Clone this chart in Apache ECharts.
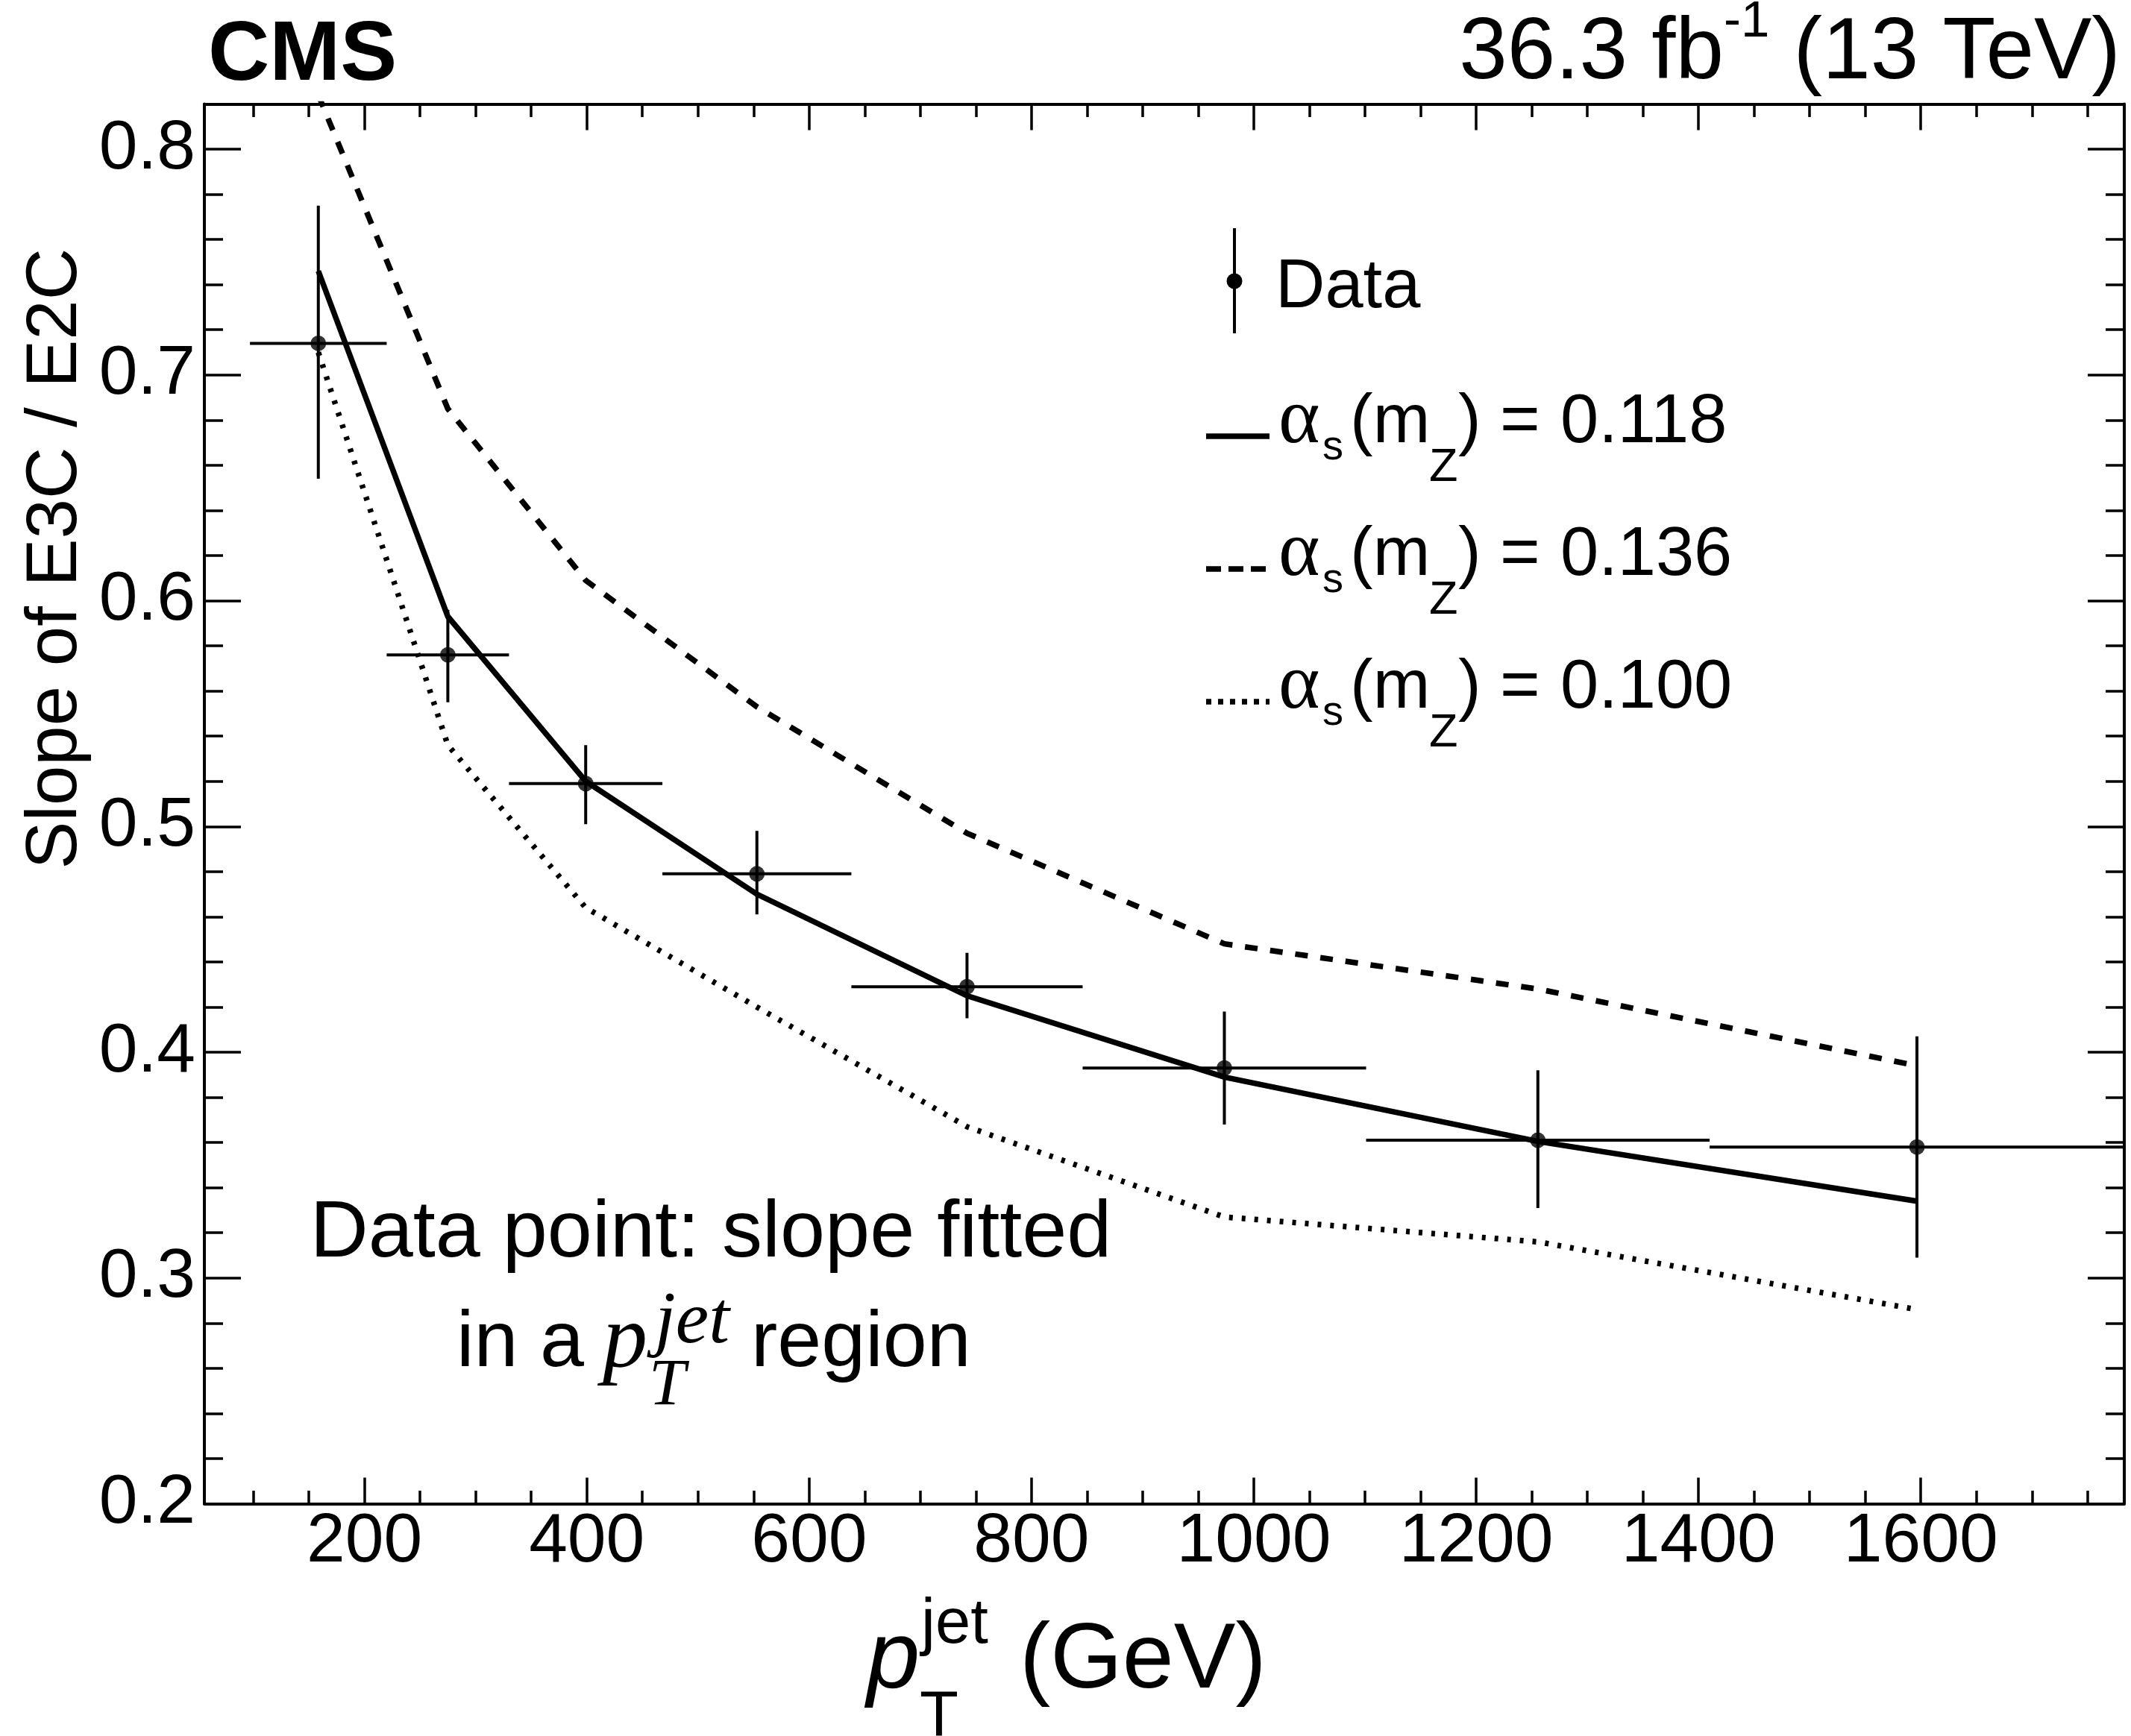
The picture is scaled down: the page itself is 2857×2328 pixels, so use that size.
<!DOCTYPE html>
<html>
<head>
<meta charset="utf-8">
<title>Slope of E3C / E2C vs pT jet</title>
<script src="https://cdn.jsdelivr.net/npm/echarts@6/dist/echarts.min.js"></script>
<style>
  html, body { margin: 0; padding: 0; background: #fff; }
  #chart { width: 2857px; height: 2328px; }
</style>
</head>
<body>
<div id="chart"></div>
<script>
// bins in pT (GeV) and the fitted slopes
const binLow = [97, 220, 330, 468, 638, 846, 1101, 1410];
const binHigh = [220, 330, 468, 638, 846, 1101, 1410, 1783];
const ptCenter = [158.5, 275, 399, 553, 742, 973.5, 1255.5, 1596.5];
const dataSlope = [0.714, 0.576, 0.519, 0.479, 0.429, 0.393, 0.361, 0.358];
const errLow = [0.654, 0.555, 0.501, 0.461, 0.415, 0.368, 0.331, 0.309];
const errHigh = [0.775, 0.596, 0.536, 0.498, 0.444, 0.418, 0.392, 0.407];

// predictions for three alpha_s values
const theory118 = [0.746, 0.593, 0.520, 0.470, 0.425, 0.389, 0.3605, 0.334];
const theory136 = [0.824, 0.685, 0.609, 0.553, 0.497, 0.448, 0.428, 0.394];
const theory100 = [0.710, 0.536, 0.464, 0.420, 0.367, 0.327, 0.316, 0.286];

const xTickValues = [200, 400, 600, 800, 1000, 1200, 1400, 1600];
const yTickValues = [0.2, 0.3, 0.4, 0.5, 0.6, 0.7, 0.8];

const X_MIN = 56, X_MAX = 1783;
const Y_MIN = 0.2, Y_MAX = 0.82;

const SANS = "'Liberation Sans', Arial, Helvetica, sans-serif";
const SERIF = "'Liberation Serif', 'Times New Roman', serif";

// minor ticks
const xMinor = [];
for (let v = 100; v < X_MAX; v += 50) xMinor.push(v);
const yMinor = [];
for (let i = 10; i <= 41; i++) yMinor.push(Math.round(i * 2) / 100);

// text helpers: place text by its alphabetic baseline
const mctx = document.createElement('canvas').getContext('2d');
function baseShift(font) {
  mctx.font = font;
  mctx.textBaseline = 'alphabetic';
  const a = mctx.measureText('Hg').fontBoundingBoxAscent;
  mctx.textBaseline = 'middle';
  const m = mctx.measureText('Hg').fontBoundingBoxAscent;
  return a - m;
}
function textWidth(str, font) {
  mctx.font = font;
  return mctx.measureText(str).width;
}
function txt(str, x, baseline, font, align) {
  return {
    type: 'text', x: x, y: baseline - baseShift(font), z: 100,
    style: { text: str, font: font, fill: '#000', textAlign: align || 'left',
             textVerticalAlign: 'middle', verticalAlign: 'middle' }
  };
}

const graphics = [];

// CMS label and luminosity
graphics.push(txt('CMS', 279, 107, 'bold 114px ' + SANS));
(function () {
  const parts = [
    ['36.3 fb', '116px ' + SANS, 0],
    ['-1', '69px ' + SANS, -56],
    [' (13 TeV)', '116px ' + SANS, 0]
  ];
  let total = 0;
  parts.forEach(p => { total += textWidth(p[0], p[1]); });
  let x = 2843 - total;
  parts.forEach(p => {
    graphics.push(txt(p[0], x, 105 + p[2], p[1]));
    x += textWidth(p[0], p[1]);
  });
})();

// y axis title (rotated, end aligned near the top)
(function () {
  const font = '96px ' + SANS;
  graphics.push({
    type: 'text', x: 102 - baseShift(font), y: 333, rotation: Math.PI / 2,
    style: { text: 'Slope of E3C / E2C', font: font, fill: '#000', textAlign: 'right',
             textVerticalAlign: 'middle', verticalAlign: 'middle' }
  });
})();

// x axis title
graphics.push(txt('p', 1162, 2263, 'italic 128px ' + SANS));
graphics.push(txt('jet', 1235, 2203, '85px ' + SANS));
graphics.push(txt('T', 1233, 2327, '85px ' + SANS));
graphics.push(txt('(GeV)', 1367, 2263, '124px ' + SANS));

// annotation
graphics.push(txt('Data point: slope fitted', 953, 1685, '108px ' + SANS, 'center'));
graphics.push(txt('in a', 612, 1832, '106px ' + SANS));
graphics.push(txt('p', 808, 1832, 'italic 120px ' + SERIF));
graphics.push(txt('jet', 878, 1800, 'italic 100px ' + SERIF));
graphics.push(txt('T', 870, 1883, 'italic 88px ' + SERIF));
graphics.push(txt('region', 1007, 1832, '106px ' + SANS));

// legend
graphics.push({ type: 'line', shape: { x1: 1655, y1: 306, x2: 1655, y2: 447 }, style: { stroke: '#000', lineWidth: 4 } });
graphics.push({ type: 'circle', shape: { cx: 1655, cy: 377, r: 10.5 }, style: { fill: '#000' } });
graphics.push(txt('Data', 1710, 412, '92px ' + SANS));

const legendRows = [
  { value: '0.118', base: 593, dash: null, width: 7.5 },
  { value: '0.136', base: 771, dash: [20, 10], width: 7.5 },
  { value: '0.100', base: 949, dash: [7, 9], width: 7.5 }
];
legendRows.forEach(r => {
  const ls = { stroke: '#000', lineWidth: r.width };
  if (r.dash) ls.lineDash = r.dash;
  graphics.push({ type: 'line', shape: { x1: 1617, y1: r.base - 8, x2: 1702, y2: r.base - 8 }, style: ls });
  graphics.push(txt('\u03b1', 1714, r.base, '106px ' + SERIF));
  graphics.push(txt('s', 1773, r.base + 23, '56px ' + SANS));
  graphics.push(txt('(m', 1810, r.base, '92px ' + SANS));
  graphics.push(txt('Z', 1916, r.base + 52, '63px ' + SANS));
  graphics.push(txt(')', 1955, r.base, '92px ' + SANS));
  graphics.push(txt('=', 2011, r.base, '92px ' + SANS));
  graphics.push(txt(r.value, 2092, r.base, '92px ' + SANS));
});

// data rows for error bars
const errRows = ptCenter.map((x, i) => [x, dataSlope[i], binLow[i], binHigh[i], errLow[i], errHigh[i]]);

function axisCommon(min, max) {
  return { type: 'value', min: min, max: max, gridIndex: 0, splitLine: { show: false } };
}
const tickStyle = { color: '#000', width: 3.5 };
const lineStyleAxis = { color: '#000', width: 4 };

const xAxes = [
  Object.assign(axisCommon(X_MIN, X_MAX), {
    position: 'bottom',
    axisLine: { show: true, onZero: false, lineStyle: lineStyleAxis },
    axisTick: { show: true, inside: true, length: 35, customValues: xTickValues, lineStyle: tickStyle },
    axisLabel: { show: true, customValues: xTickValues, margin: 5, fontSize: 93, fontFamily: SANS, color: '#000',
                 formatter: v => String(v) }
  }),
  Object.assign(axisCommon(X_MIN, X_MAX), {
    position: 'bottom',
    axisLine: { show: false },
    axisTick: { show: true, inside: true, length: 17.5, customValues: xMinor, lineStyle: tickStyle },
    axisLabel: { show: false }
  }),
  Object.assign(axisCommon(X_MIN, X_MAX), {
    position: 'top',
    axisLine: { show: true, onZero: false, lineStyle: lineStyleAxis },
    axisTick: { show: true, inside: true, length: 35, customValues: xTickValues, lineStyle: tickStyle },
    axisLabel: { show: false }
  }),
  Object.assign(axisCommon(X_MIN, X_MAX), {
    position: 'top',
    axisLine: { show: false },
    axisTick: { show: true, inside: true, length: 17.5, customValues: xMinor, lineStyle: tickStyle },
    axisLabel: { show: false }
  })
];

const yAxes = [
  Object.assign(axisCommon(Y_MIN, Y_MAX), {
    position: 'left',
    axisLine: { show: true, onZero: false, lineStyle: lineStyleAxis },
    axisTick: { show: true, inside: true, length: 49, customValues: yTickValues, lineStyle: tickStyle },
    axisLabel: { show: true, customValues: yTickValues, margin: 12, fontSize: 93, fontFamily: SANS, color: '#000',
                 formatter: v => v.toFixed(1) }
  }),
  Object.assign(axisCommon(Y_MIN, Y_MAX), {
    position: 'left',
    axisLine: { show: false },
    axisTick: { show: true, inside: true, length: 25, customValues: yMinor, lineStyle: tickStyle },
    axisLabel: { show: false }
  }),
  Object.assign(axisCommon(Y_MIN, Y_MAX), {
    position: 'right',
    axisLine: { show: true, onZero: false, lineStyle: lineStyleAxis },
    axisTick: { show: true, inside: true, length: 49, customValues: yTickValues, lineStyle: tickStyle },
    axisLabel: { show: false }
  }),
  Object.assign(axisCommon(Y_MIN, Y_MAX), {
    position: 'right',
    axisLine: { show: false },
    axisTick: { show: true, inside: true, length: 25, customValues: yMinor, lineStyle: tickStyle },
    axisLabel: { show: false }
  })
];

function curve(name, values, type, width) {
  return {
    name: name, type: 'line', xAxisIndex: 0, yAxisIndex: 0,
    data: ptCenter.map((x, i) => [x, values[i]]),
    symbol: 'none', clip: true, z: 3,
    lineStyle: { color: '#000', width: width, type: type, cap: 'butt', join: 'miter' }
  };
}

const myChart = echarts.init(document.getElementById('chart'), null, { renderer: 'canvas' });
myChart.setOption({
  animation: false,
  backgroundColor: '#fff',
  grid: { left: 274, right: 9, top: 139.5, bottom: 311.5, containLabel: false, outerBoundsMode: 'none' },
  xAxis: xAxes,
  yAxis: yAxes,
  graphic: { elements: graphics },
  series: [
    curve('alpha_s = 0.136', theory136, [17, 17], 7.5),
    curve('alpha_s = 0.100', theory100, [5, 12], 7.5),
    curve('alpha_s = 0.118', theory118, 'solid', 7.5),
    {
      name: 'Data errors', type: 'custom', xAxisIndex: 0, yAxisIndex: 0, clip: true, z: 4,
      data: errRows,
      encode: { x: [0, 2, 3], y: [1, 4, 5] },
      renderItem: function (params, api) {
        const xl = api.coord([api.value(2), api.value(1)]);
        const xh = api.coord([api.value(3), api.value(1)]);
        const yl = api.coord([api.value(0), api.value(4)]);
        const yh = api.coord([api.value(0), api.value(5)]);
        const st = { stroke: '#000', lineWidth: 4 };
        return {
          type: 'group',
          children: [
            { type: 'line', shape: { x1: xl[0], y1: xl[1], x2: xh[0], y2: xh[1] }, style: st },
            { type: 'line', shape: { x1: yl[0], y1: yl[1], x2: yh[0], y2: yh[1] }, style: st }
          ]
        };
      }
    },
    {
      name: 'Data', type: 'scatter', xAxisIndex: 0, yAxisIndex: 0, z: 5,
      data: ptCenter.map((x, i) => [x, dataSlope[i]]),
      symbol: 'circle', symbolSize: 21,
      itemStyle: { color: '#000' }
    }
  ]
});
</script>
</body>
</html>
